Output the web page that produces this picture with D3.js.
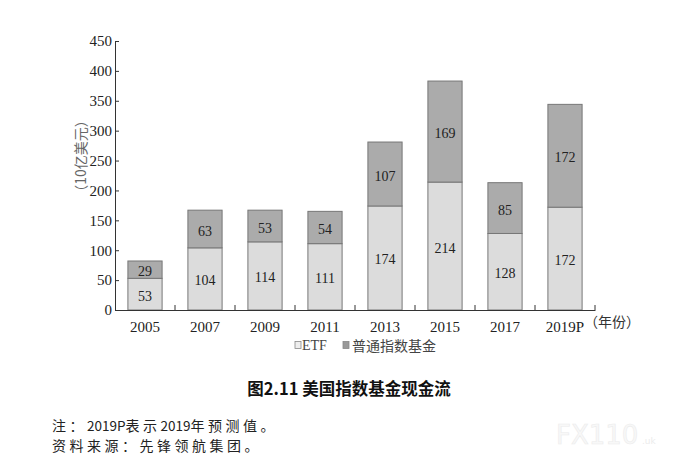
<!DOCTYPE html>
<html><head><meta charset="utf-8">
<script src="https://cdn.jsdelivr.net/npm/d3@7"></script>
<style>
html,body{margin:0;padding:0;background:#fff;}
svg{display:block;}
</style></head>
<body>
<svg id="chart" width="695" height="457"></svg>
<script>
const categories = ['2005','2007','2009','2011','2013','2015','2017','2019P'];
const etfValues = [53,104,114,111,174,214,128,172];
const regularValues = [29,63,53,54,107,169,85,172];
const yTickValues = [0,50,100,150,200,250,300,350,400,450];
const seriesNames = ['ETF','普通指数基金'];
const yAxisTitle = '（10亿美元）';
const xUnit = '（年份）';
const chartTitle = '图2.11 美国指数基金现金流';
const notes = ['注：2019P表示2019年预测值。','资料来源：先锋领航集团。'];

const svg = d3.select('#chart');
const serif = '"Liberation Serif","DejaVu Serif",serif';
const cjk = '"Noto Sans CJK SC",sans-serif';

const x = d3.scaleBand().domain(categories).range([115,595]).paddingInner(0.43).paddingOuter(0.215);
const y = d3.scaleLinear().domain([0,450]).range([310,41]);

const data = categories.map((c,i)=>({cat:c, etf:etfValues[i], reg:regularValues[i]}));

// bars
const g = svg.append('g');
g.selectAll('rect.etf').data(data).join('rect')
  .attr('x',d=>x(d.cat)).attr('width',x.bandwidth())
  .attr('y',d=>y(d.etf)).attr('height',d=>y(0)-y(d.etf))
  .attr('fill','#dcdcdc').attr('stroke','#777').attr('stroke-width',1);
g.selectAll('rect.reg').data(data).join('rect')
  .attr('x',d=>x(d.cat)).attr('width',x.bandwidth())
  .attr('y',d=>y(d.etf+d.reg)).attr('height',d=>y(d.etf)-y(d.etf+d.reg))
  .attr('fill','#ababab').attr('stroke','#777').attr('stroke-width',1);

// value labels
g.selectAll('text.etfv').data(data).join('text')
  .attr('x',d=>x(d.cat)+x.bandwidth()/2)
  .attr('y',d=>(y(0)+y(d.etf))/2+2)
  .attr('text-anchor','middle').attr('dominant-baseline','central')
  .attr('font-family',serif).attr('font-size',14).attr('fill','#222')
  .text(d=>d.etf);
g.selectAll('text.regv').data(data).join('text')
  .attr('x',d=>x(d.cat)+x.bandwidth()/2)
  .attr('y',d=>(y(d.etf)+y(d.etf+d.reg))/2+2)
  .attr('text-anchor','middle').attr('dominant-baseline','central')
  .attr('font-family',serif).attr('font-size',14).attr('fill','#222')
  .text(d=>d.reg);

// y axis
const yAxis = svg.append('g').attr('transform','translate(115,0)')
  .call(d3.axisLeft(y).tickValues(yTickValues).tickSizeInner(-4).tickSizeOuter(0).tickPadding(3));
yAxis.select('.domain').attr('stroke','#333');
yAxis.selectAll('.tick line').attr('stroke','#333');
yAxis.selectAll('.tick text').attr('font-family',serif).attr('font-size',15).attr('fill','#222');

// x axis
const xAxis = svg.append('g').attr('transform','translate(0,310)')
  .call(d3.axisBottom(x).tickSize(0).tickPadding(11));
xAxis.select('.domain').attr('stroke','#333');
xAxis.selectAll('.tick text').attr('font-family',serif).attr('font-size',15).attr('fill','#222');
// boundary ticks pointing up
const step = x.step();
const bounds = categories.map(c=>x(c)-(step-x.bandwidth())/2+step);
svg.append('g').selectAll('line').data(bounds).join('line')
  .attr('x1',d=>d).attr('x2',d=>d).attr('y1',310).attr('y2',305)
  .attr('stroke','#333');

// x unit
const lastCat = categories[categories.length-1];
svg.append('text').attr('x',x(lastCat)+x.bandwidth()/2+19).attr('y',327)
  .attr('font-family',cjk).attr('font-size',14).attr('fill','#333').text(xUnit);

// y title
svg.append('text').attr('transform','translate(80,156) rotate(-90)')
  .attr('text-anchor','middle').attr('dominant-baseline','central')
  .attr('font-family',cjk).attr('font-size',14).attr('fill','#666').text(yAxisTitle);

// legend
const leg = svg.append('g');
leg.append('rect').attr('x',295).attr('y',341.5).attr('width',6).attr('height',7)
  .attr('fill','#eee').attr('stroke','#888').attr('stroke-width',0.8);
leg.append('text').attr('x',302).attr('y',350).attr('font-family',serif).attr('font-size',14).attr('fill','#444').text(seriesNames[0]);
leg.append('rect').attr('x',343).attr('y',341.5).attr('width',6).attr('height',7)
  .attr('fill','#999').attr('stroke','#888').attr('stroke-width',0.8);
leg.append('text').attr('x',352).attr('y',350.5).attr('font-family',cjk).attr('font-size',14).attr('fill','#444').text(seriesNames[1]);

// title
svg.append('text').attr('x',349).attr('y',388).attr('text-anchor','middle').attr('dominant-baseline','central')
  .attr('font-family',cjk).attr('font-weight','bold').attr('font-size',16.5).attr('fill','#111').text(chartTitle);

// notes: CJK runs spaced wider, ASCII runs compact
notes.forEach((line,i)=>{
  const t = svg.append('text').attr('x',52).attr('y',431+i*20)
    .attr('font-family',cjk).attr('fill','#222');
  const runs = line.match(/[\x00-\x7f]+|[^\x00-\x7f]+/g);
  runs.forEach(r=>{
    const ascii = /^[\x00-\x7f]+$/.test(r);
    t.append('tspan').attr('font-size',ascii?13.5:14)
      .attr('letter-spacing',ascii?0:3.5).text(r);
  });
});

// watermark
svg.append('text').attr('x',556).attr('y',444).attr('font-family','"DejaVu Sans",sans-serif')
  .attr('font-size',26).attr('fill','#f8f8f8').attr('stroke','#ececec').attr('stroke-width',0.6).text('FX110');
svg.append('text').attr('x',642).attr('y',444).attr('font-family','"DejaVu Sans",sans-serif')
  .attr('font-size',9).attr('fill','#ececec').text('.uk');
</script>
</body></html>
